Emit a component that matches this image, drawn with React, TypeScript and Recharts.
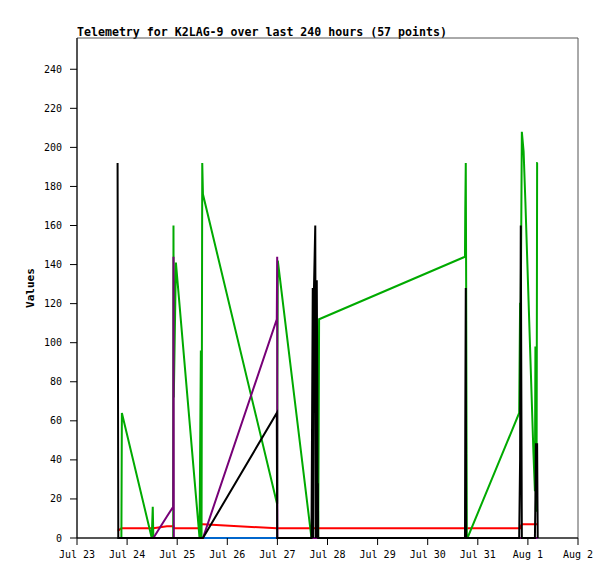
import { LineChart, Line, XAxis, YAxis, ReferenceArea, ReferenceLine } from 'recharts';

// hours since Jul 23 00:00 for each telemetry packet
const hours = [
  19.44, 19.78, 19.97, 21.26, 21.5, 35.81, 36.29, 36.58, 43.06, 46.08,
  46.22, 46.37, 47.38, 58.7, 59.33, 59.66, 60.0, 60.34, 95.71, 95.9,
  95.98, 96.19, 112.32, 112.94, 113.23, 113.52, 114.14, 114.48, 114.86, 115.1,
  115.25, 115.39, 115.54, 115.78, 115.97, 185.86, 186.0, 186.24, 186.43, 186.72,
  187.06, 211.82, 212.26, 212.59, 213.1, 213.94, 214.8, 215.76, 216.72, 217.68,
  218.64, 219.36, 219.6, 219.84, 220.13, 220.42, 220.7,
];

const chBlack = [
  192, 0, 0, 0, 0, 0, 0, 0, 0, 0,
  0, 0, 0, 0, 0, 0, 0, 0, 64, 0,
  0, 0, 0, 128, 0, 128, 160, 0, 132, 80,
  0, 28, 0, 0, 0, 0, 60, 128, 0, 0,
  0, 0, 40, 160, 0, 0, 0, 0, 0, 0,
  0, 0, 20, 48, 48, 48, 0,
];

const chGreen = [
  0, 0, 0, 0, 64, 0, 16, 0, 0, 0,
  160, 72, 141, 0, 96, 0, 192, 176, 18, 18,
  80, 142, 0, 0, 0, 0, 0, 0, 0, 0,
  0, 0, 0, 56, 112, 144, 168, 192, 128, 0,
  0, 64, 120, 120, 208, 198, 172, 140, 108, 76,
  44, 24, 98, 14, 14, 192, 192,
];

const chPurple = [
  0, 0, 0, 0, 0, 0, 0, 0, 11, 16,
  144, 0, 0, 0, 0, 0, 0, 0, 112, 144,
  0, 0, 0, 0, 0, 0, 0, 0, 0, 0,
  0, 0, 0, 0, 0, 0, 0, 0, 0, 0,
  0, 0, 0, 0, 0, 0, 0, 0, 0, 0,
  0, 0, 0, 0, 0, 0, 0,
];

const chRed = [
  4, 4, 4, 5, 5, 5, 5, 5, 6, 6,
  6, 5, 5, 5, 6, 7, 7, 7, 5, 5,
  5, 5, 5, 5, 5, 5, 5, 5, 5, 5,
  5, 5, 5, 5, 5, 5, 5, 5, 5, 5,
  5, 5, 5, 6, 7, 7, 7, 7, 7, 7,
  7, 7, 7, 7, 7, 7, 7,
];

const chBlue = hours.map(() => 0);

const dayTicks = [0, 24, 48, 72, 96, 120, 144, 168, 192, 216, 240];
const dayLabels = ['Jul 23', 'Jul 24', 'Jul 25', 'Jul 26', 'Jul 27', 'Jul 28', 'Jul 29', 'Jul 30', 'Jul 31', 'Aug 1', 'Aug 2'];
const valueTicks = [0, 20, 40, 60, 80, 100, 120, 140, 160, 180, 200, 220, 240];

const data = hours.map((t, i) => ({
  t,
  black: chBlack[i],
  green: chGreen[i],
  purple: chPurple[i],
  red: chRed[i],
  blue: chBlue[i],
}));

const tickFont = { fill: '#000', fontSize: 10, fontFamily: '"DejaVu Sans Mono", monospace' };

const ValuesLabel = (props: any) => {
  const vb = props.viewBox || {};
  const cx = vb.x + 30;
  const cy = vb.y + vb.height / 2;
  return (
    <text
      x={cx}
      y={cy}
      transform={`rotate(-90, ${cx}, ${cy})`}
      textAnchor="middle"
      dominantBaseline="central"
      style={{ fontFamily: '"DejaVu Sans Mono", monospace', fontWeight: 'bold', fontSize: 11 }}
      fill="#000"
    >
      Values
    </text>
  );
};

export default function App() {
  return (
    <div style={{ position: 'absolute', left: 0, top: 0, width: 615, height: 579, background: '#fff' }}>
      <div
        style={{
          position: 'absolute',
          left: 77,
          top: 26,
          fontFamily: '"DejaVu Sans Mono", monospace',
          fontWeight: 'bold',
          fontSize: 11.6,
          lineHeight: '12px',
          whiteSpace: 'nowrap',
          color: '#000',
        }}
      >
        Telemetry for K2LAG-9 over last 240 hours (57 points)
      </div>
      <LineChart width={615} height={579} data={data} margin={{ top: 38, right: 37, bottom: 0, left: 0 }}>
        <ReferenceArea x1={0} x2={240} y1={0} y2={256} fill="none" stroke="#555" strokeWidth={1} />
        <ReferenceLine y={0} stroke="#000" strokeWidth={1} />
        <XAxis
          type="number"
          dataKey="t"
          domain={[0, 240]}
          ticks={dayTicks}
          interval={0}
          tickFormatter={(v: number) => dayLabels[dayTicks.indexOf(v)]}
          height={41}
          tickSize={7}
          tickMargin={6}
          axisLine={false}
          stroke="#000"
          tick={tickFont}
        />
        <YAxis
          type="number"
          domain={[0, 256]}
          ticks={valueTicks}
          interval={0}
          width={77}
          tickSize={7}
          tickMargin={8}
          stroke="#000"
          tick={tickFont}
          label={<ValuesLabel />}
        />
        <Line type="linear" dataKey="blue" stroke="#0066cc" strokeWidth={2} dot={false} isAnimationActive={false} />
        <Line type="linear" dataKey="red" stroke="#ff0000" strokeWidth={2} dot={false} isAnimationActive={false} />
        <Line type="linear" dataKey="green" stroke="#00aa00" strokeWidth={2} dot={false} isAnimationActive={false} />
        <Line type="linear" dataKey="purple" stroke="#770077" strokeWidth={2} dot={false} isAnimationActive={false} />
        <Line type="linear" dataKey="black" stroke="#000000" strokeWidth={2} dot={false} isAnimationActive={false} />
      </LineChart>
    </div>
  );
}
